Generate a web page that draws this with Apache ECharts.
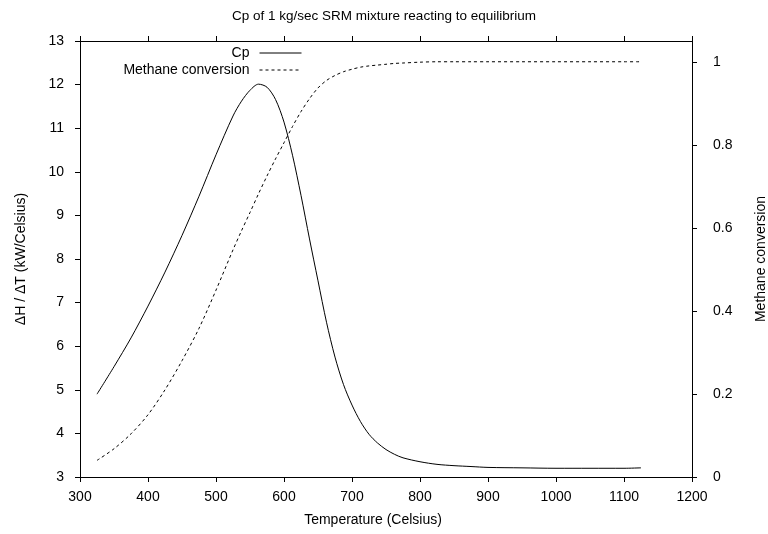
<!DOCTYPE html>
<html>
<head>
<meta charset="utf-8">
<script src="https://cdn.jsdelivr.net/npm/echarts@6/dist/echarts.min.js"></script>
<style>html,body{margin:0;padding:0;background:#fff}#c{width:768px;height:534px}</style>
</head>
<body>
<div id="c"></div>
<script>
const temperature = [325,350,375,400,425,450,475,500,525,537.5,550,562.5,575,587.5,600,612.5,625,637.5,650,662.5,675,687.5,700,712.5,725,737.5,750,762.5,775,800,825,850,875,900,950,1000,1050,1100,1125];
const cp =          [4.90,5.53,6.19,6.92,7.70,8.54,9.44,10.39,11.28,11.62,11.87,12.01,11.94,11.66,11.14,10.38,9.46,8.46,7.50,6.55,5.75,5.12,4.65,4.27,3.98,3.78,3.63,3.52,3.44,3.35,3.29,3.26,3.24,3.22,3.21,3.20,3.20,3.20,3.21];
const conversion =  [0.040,0.068,0.104,0.150,0.210,0.280,0.358,0.450,0.547,0.593,0.637,0.682,0.725,0.766,0.805,0.844,0.880,0.911,0.937,0.955,0.967,0.976,0.982,0.987,0.990,0.992,0.994,0.996,0.997,0.999,1.0,1.0,1.0,1.0,1.0,1.0,1.0,1.0,1.0];
const xTicks = [300,400,500,600,700,800,900,1000,1100,1200];
const leftTicks = [3,4,5,6,7,8,9,10,11,12,13];
const rightTicks = [0,0.2,0.4,0.6,0.8,1];

const FONT = 'Liberation Sans';
const chart = echarts.init(document.getElementById('c'), null, {renderer: 'canvas'});
const axisCommon = {
  axisLine: {show: true, lineStyle: {color: '#000', width: 1}},
  axisTick: {show: true, inside: false, length: 5, lineStyle: {color: '#000'}},
  splitLine: {show: false},
  axisLabel: {color: '#000', fontFamily: FONT, fontSize: 14},
  nameTextStyle: {color: '#000', fontFamily: FONT, fontSize: 14}
};
const legendCommon = {
  right: 466, padding: 0, align: 'right', itemWidth: 42, itemHeight: 14,
  itemStyle: {opacity: 0},
  lineStyle: {width: 1, color: '#000'},
  textStyle: {color: '#000', fontFamily: FONT, fontSize: 14, padding: [0, 5, 0, 0]}
};
chart.setOption({
  animation: false,
  backgroundColor: '#fff',
  title: {
    text: 'Cp of 1 kg/sec SRM mixture reacting to equilibrium',
    left: 'center', top: 4,
    textStyle: {color: '#000', fontFamily: FONT, fontSize: 13.5, fontWeight: 'normal'}
  },
  grid: {left: 80, right: 76, top: 41, bottom: 57, containLabel: false, outerBoundsMode: 'none'},
  legend: [
    Object.assign({}, legendCommon, {data: ['Cp'], top: 46}),
    Object.assign({}, legendCommon, {data: ['Methane conversion'], top: 63})
  ],
  xAxis: [
    Object.assign({}, axisCommon, {
      type: 'value', position: 'bottom', min: 300, max: 1200, interval: 100,
      name: 'Temperature (Celsius)', nameLocation: 'middle', nameGap: 36,
      nameTextStyle: Object.assign({}, axisCommon.nameTextStyle, {padding: [0, 26, 0, 0]}),
      axisTick: Object.assign({}, axisCommon.axisTick, {customValues: xTicks}),
      axisLabel: Object.assign({}, axisCommon.axisLabel, {margin: 13, customValues: xTicks, formatter: v => String(v)})
    }),
    Object.assign({}, axisCommon, {
      type: 'value', position: 'top', min: 300, max: 1200, interval: 100,
      axisTick: Object.assign({}, axisCommon.axisTick, {customValues: xTicks}),
      axisLabel: {show: false}
    })
  ],
  yAxis: [
    Object.assign({}, axisCommon, {
      type: 'value', position: 'left', min: 3, max: 13, interval: 1,
      name: 'ΔH / ΔT (kW/Celsius)', nameLocation: 'middle', nameGap: 52, nameRotate: 90,
      axisTick: Object.assign({}, axisCommon.axisTick, {customValues: leftTicks}),
      axisLabel: Object.assign({}, axisCommon.axisLabel, {margin: 16, customValues: leftTicks, formatter: v => String(v)})
    }),
    Object.assign({}, axisCommon, {
      type: 'value', position: 'right', min: 0, max: 1.05, interval: 0.2,
      name: 'Methane conversion', nameLocation: 'middle', nameGap: 62, nameRotate: 90,
      axisTick: Object.assign({}, axisCommon.axisTick, {customValues: rightTicks}),
      axisLabel: Object.assign({}, axisCommon.axisLabel, {margin: 21, customValues: rightTicks, formatter: v => String(v)})
    })
  ],
  series: [
    {name: 'Cp', type: 'line', xAxisIndex: 0, yAxisIndex: 0, symbol: 'none', smooth: 0.3,
     data: temperature.map((t, i) => [t, cp[i]]),
     lineStyle: {color: '#000', width: 1, type: 'solid'}, itemStyle: {color: '#000'}},
    {name: 'Methane conversion', type: 'line', xAxisIndex: 0, yAxisIndex: 1, symbol: 'none', smooth: 0.3,
     data: temperature.map((t, i) => [t, conversion[i]]),
     lineStyle: {color: '#000', width: 1, type: [3, 3]}, itemStyle: {color: '#000'}}
  ]
});
</script>
</body>
</html>
